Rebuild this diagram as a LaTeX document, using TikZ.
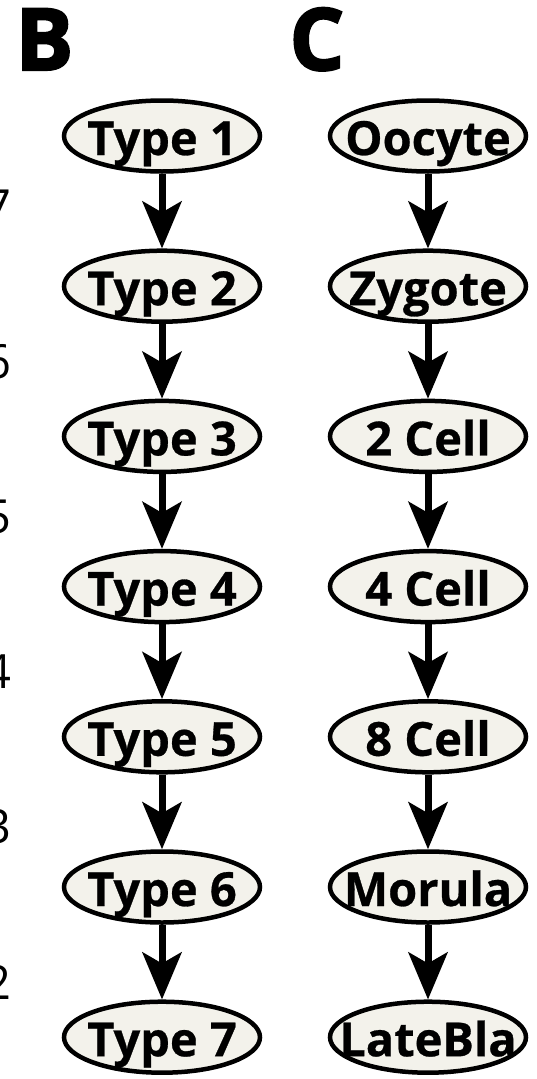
\documentclass[tikz,border=0pt]{standalone}
\usepackage{fontspec}
\setmainfont{Open Sans}[BoldFeatures={FakeBold=0.6}]
\newfontfamily\panelfont{Open Sans}[BoldFeatures={FakeBold=2.5}]
\usetikzlibrary{shapes.geometric,arrows.meta}
\definecolor{cellfill}{HTML}{F3F2EB}
% centred label whose baseline sits a fixed distance below the node centre
\newcommand{\stagetext}[1]{\makebox[0pt]{\smash{\raisebox{-19pt}{#1}}}}
\tikzset{
  stage/.style={ellipse, draw=black, line width=4.5pt, fill=cellfill,
    minimum width=196pt, minimum height=71pt, inner sep=0pt,
    font=\fontsize{47}{47}\selectfont\bfseries},
  flow/.style={line width=7pt, -{Stealth[length=47pt,width=39pt,inset=11pt]}},
  panel/.style={font=\panelfont\fontsize{86}{86}\selectfont\bfseries, anchor=base west},
  tick/.style={font=\fontsize{47}{47}\selectfont, anchor=base east}
}
\begin{document}
\begin{tikzpicture}[x=1pt,y=-1pt]
\useasboundingbox (0,0) rectangle (537,1079);
% panel letters
\node[panel] (pB) at (12,70) {B};
\node[panel] (pC) at (286,70) {C};
% axis numbers of the neighbouring panel
\foreach \n [count=\i from 0] in {7,6,5,4,3,2}
  \node[tick] (num\n) at (15,223+155.2*\i) {\n};
% column B
\foreach \k [count=\i from 0] in {1,...,7}
  \node[stage] (t\k) at (162,136+150.2*\i) {\stagetext{Type \k}};
\foreach \a/\b in {1/2,2/3,3/4,4/5,5/6,6/7}
  \draw[flow] (t\a) -- (t\b);
% column C
\foreach \nm/\txt [count=\i from 0] in {oo/Oocyte,zy/Zygote,c2/2 Cell,c4/4 Cell,c8/8 Cell,mo/Morula,lb/LateBla}
  \node[stage] (\nm) at (428,136+150.2*\i) {\stagetext{\txt}};
\foreach \a/\b in {oo/zy,zy/c2,c2/c4,c4/c8,c8/mo,mo/lb}
  \draw[flow] (\a) -- (\b);
\end{tikzpicture}
\end{document}
